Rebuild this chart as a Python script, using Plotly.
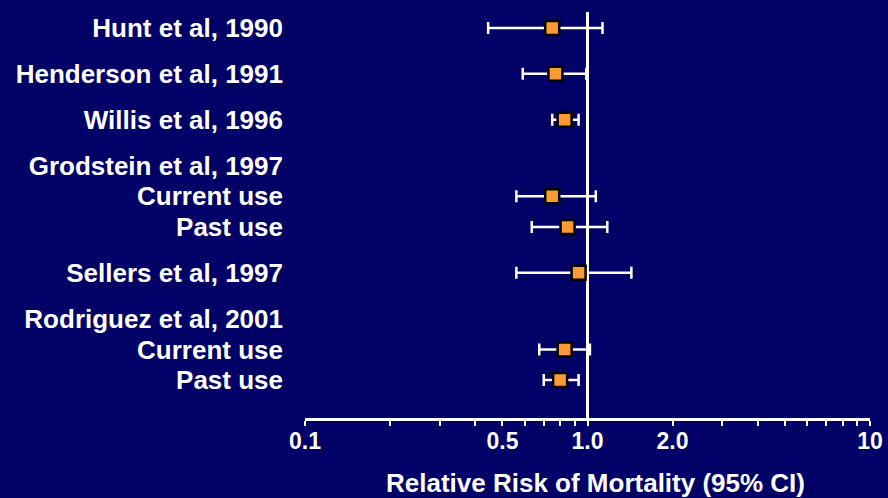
import plotly.graph_objects as go

# ---- data ----
study_labels = ["Hunt et al, 1990", "Henderson et al, 1991", "Willis et al, 1996",
                "Grodstein et al, 1997", "Current use", "Past use",
                "Sellers et al, 1997", "Rodriguez et al, 2001", "Current use", "Past use"]
is_subrow = [False, False, False, False, True, True, False, False, True, True]
rr = [0.75, 0.77, 0.83, None, 0.75, 0.85, 0.93, None, 0.83, 0.80]
ci_low = [0.445, 0.59, 0.75, None, 0.56, 0.635, 0.56, None, 0.675, 0.70]
ci_high = [1.13, 0.99, 0.93, None, 1.07, 1.175, 1.43, None, 1.02, 0.93]

x_tickvals = [0.1, 0.2, 0.3, 0.4, 0.5, 0.6, 0.7, 0.8, 0.9, 1, 2, 3, 4, 5, 6, 7, 8, 9, 10]
x_labeled = {0.1: "0.1", 0.5: "0.5", 1: "1.0", 2: "2.0", 10: "10"}
null_value = 1.0
x_title = "Relative Risk of Mortality (95% CI)"

# ---- layout helpers ----
row_pos = []
p = 0.0
for i, sub in enumerate(is_subrow):
    if i > 0:
        p += 1.0 if sub else 1.5
    row_pos.append(p)

x_ticktext = [x_labeled.get(v, "") for v in x_tickvals]

BG = "#000066"
FONT = "Liberation Sans, Arial, Helvetica, sans-serif"

err_plus = [h - r if r is not None else None for h, r in zip(ci_high, rr)]
err_minus = [r - l if r is not None else None for l, r in zip(ci_low, rr)]

fig = go.Figure()
fig.add_trace(go.Scatter(
    x=rr, y=row_pos, mode="markers",
    marker=dict(symbol="square", size=14, color="#FF9933",
                line=dict(color="black", width=2.5)),
    error_x=dict(type="data", symmetric=False, array=err_plus, arrayminus=err_minus,
                 color="white", thickness=2.5, width=6),
    showlegend=False, hoverinfo="x+y",
))

fig.add_shape(type="line", xref="x", yref="paper", x0=null_value, x1=null_value,
              y0=0, y1=1, line=dict(color="white", width=3), layer="below")

top_pad = 0.52
bottom_pad = 1.24
fig.update_layout(
    width=888, height=498,
    paper_bgcolor=BG, plot_bgcolor=BG,
    margin=dict(l=305, r=18, t=12, b=80),
    font=dict(family=FONT, color="white", size=24, weight="bold"),
    xaxis=dict(type="log", range=[-1, 1], tickvals=x_tickvals, ticktext=x_ticktext,
               ticks="outside", ticklen=5, tickwidth=2, tickcolor="white",
               showline=True, linecolor="white", linewidth=2.5,
               showgrid=False, zeroline=False, ticklabelstandoff=-4, automargin=False,
               tickfont=dict(family=FONT, size=23, color="white", weight="bold")),
    yaxis=dict(range=[row_pos[-1] + bottom_pad, -top_pad], tickvals=row_pos,
               ticktext=study_labels, ticks="", showline=False, showgrid=False,
               zeroline=False, ticklabelstandoff=21, automargin=False,
               tickfont=dict(family=FONT, size=26, color="white", weight="bold")),
    annotations=[dict(text=x_title, xref="paper", yref="paper", x=0.515, y=-0.161,
                      xanchor="center", yanchor="middle", showarrow=False,
                      font=dict(family=FONT, size=26, color="white", weight="bold"))],
)

fig.write_html("out.html", config={"displayModeBar": False},
               post_script="document.body.style.margin='0';document.body.style.background='" + BG + "';")
